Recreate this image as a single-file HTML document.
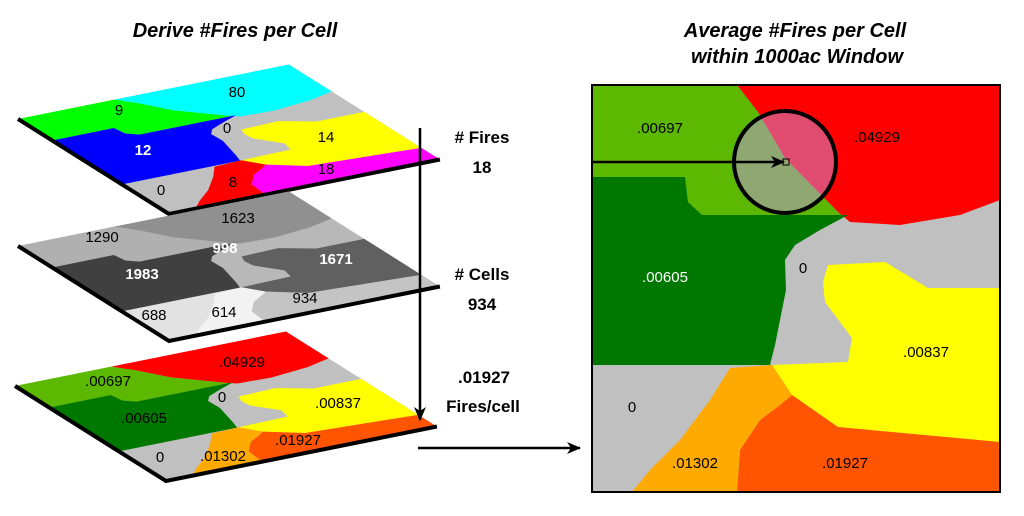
<!DOCTYPE html>
<html><head><meta charset="utf-8"><style>
html,body{margin:0;padding:0;background:#fff;}
svg{display:block;font-family:"Liberation Sans",Arial,sans-serif;}
</style></head><body>
<svg width="1024" height="516" viewBox="0 0 1024 516" xmlns="http://www.w3.org/2000/svg">
<defs>
<polygon id="lg" points="0,0 145,0 166,27 193,73 246,127 256,130 110,130 96,117 93,92 0,92"/>
<polygon id="rd" points="145,0 408,0 408,115 368,130 308,140 258,137 246,127 193,73 166,27"/>
<polygon id="dg" points="0,92 93,92 96,117 110,130 256,130 228,145 203,160 193,175 194,205 188,235 183,260 178,280 0,280"/>
<polygon id="ye" points="236,180 293,177 336,203 408,203 408,357 246,342 200,310 180,280 256,277 260,253 233,217 231,197"/>
<polygon id="orr" points="200,310 246,342 408,357 408,407 145,407 148,365 168,335 188,320"/>
<polygon id="or" points="180,280 200,310 188,320 168,335 148,365 145,407 40,407 58,385 88,355 118,315 138,283"/>
<marker id="ah" markerWidth="14" markerHeight="12" refX="13" refY="6" orient="auto" markerUnits="userSpaceOnUse"><path d="M0,0 L14,6 L0,12 L4,6 Z" fill="#000"/></marker>
</defs>

<text x="235" y="37" font-size="20" font-weight="bold" font-style="italic" text-anchor="middle">Derive #Fires per Cell</text>
<text x="795" y="37" font-size="20" font-weight="bold" font-style="italic" text-anchor="middle">Average #Fires per Cell</text>
<text x="797" y="63" font-size="20" font-weight="bold" font-style="italic" text-anchor="middle">within 1000ac Window</text>

<g transform="matrix(0.664,-0.1336,0.371,0.2334,18,119)">
<rect x="0" y="0" width="408" height="407" fill="#c0c0c0"/>
<use href="#lg" fill="#00ff00"/><use href="#rd" fill="#00ffff"/><use href="#dg" fill="#0000ff"/>
<use href="#ye" fill="#ffff00"/><use href="#orr" fill="#ff00ff"/><use href="#or" fill="#ff0000"/>
<polyline points="0,0 0,407 408,407" fill="none" stroke="#000" stroke-width="4" vector-effect="non-scaling-stroke"/>
</g>
<g transform="matrix(0.664,-0.1336,0.371,0.2334,18,246)">
<rect x="0" y="0" width="408" height="407" fill="#b8b8b8"/>
<use href="#lg" fill="#b0b0b0"/><use href="#rd" fill="#909090"/><use href="#dg" fill="#404040"/>
<use href="#ye" fill="#606060"/><use href="#orr" fill="#c4c4c4"/><use href="#or" fill="#f2f2f2"/>
<polygon points="0,280 178,280 138,283 118,315 88,355 58,385 40,407 0,407" fill="#e2e2e2"/>
<polyline points="0,0 0,407 408,407" fill="none" stroke="#000" stroke-width="4" vector-effect="non-scaling-stroke"/>
</g>
<g transform="matrix(0.664,-0.1336,0.371,0.2334,15,386)">
<rect x="0" y="0" width="408" height="407" fill="#c0c0c0"/>
<use href="#lg" fill="#5cb800"/><use href="#rd" fill="#ff0000"/><use href="#dg" fill="#007800"/>
<use href="#ye" fill="#ffff00"/><use href="#orr" fill="#ff5500"/><use href="#or" fill="#ffaa00"/>
<polyline points="0,0 0,407 408,407" fill="none" stroke="#000" stroke-width="4" vector-effect="non-scaling-stroke"/>
</g>

<g font-size="15" text-anchor="middle">
<text x="237" y="97">80</text><text x="119" y="115">9</text><text x="227" y="133">0</text>
<text x="326" y="142">14</text><text x="143" y="155" fill="#fff" font-weight="bold">12</text>
<text x="326" y="174">18</text><text x="233" y="187">8</text><text x="161" y="195">0</text>

<text x="238" y="223">1623</text><text x="102" y="242">1290</text>
<text x="225" y="253" fill="#fff" font-weight="bold">998</text>
<text x="142" y="279" fill="#fff" font-weight="bold">1983</text>
<text x="336" y="264" fill="#fff" font-weight="bold">1671</text>
<text x="305" y="303">934</text><text x="154" y="320">688</text><text x="224" y="317">614</text>

<text x="242" y="367">.04929</text><text x="108" y="386">.00697</text><text x="222" y="402">0</text>
<text x="338" y="408">.00837</text><text x="144" y="423">.00605</text><text x="298" y="445">.01927</text>
<text x="160" y="462">0</text><text x="223" y="461">.01302</text>
</g>

<line x1="420" y1="128" x2="420" y2="420" stroke="#000" stroke-width="2.5" marker-end="url(#ah)"/>
<line x1="418" y1="448" x2="580" y2="448" stroke="#000" stroke-width="2.5" marker-end="url(#ah)"/>
<g font-size="17" font-weight="bold" text-anchor="middle">
<text x="482" y="143"># Fires</text><text x="482" y="173">18</text>
<text x="482" y="280"># Cells</text><text x="482" y="310">934</text>
<text x="484" y="383">.01927</text><text x="483" y="412">Fires/cell</text>
</g>

<g transform="translate(592,85)">
<rect x="0" y="0" width="408" height="407" fill="#c0c0c0"/>
<use href="#lg" fill="#5cb800"/><use href="#rd" fill="#ff0000"/><use href="#dg" fill="#007800"/>
<use href="#ye" fill="#ffff00"/><use href="#orr" fill="#ff5500"/><use href="#or" fill="#ffaa00"/>
</g>
<rect x="592" y="85" width="408" height="407" fill="none" stroke="#000" stroke-width="2"/>
<circle cx="785" cy="162" r="51" fill="rgb(194,150,223)" fill-opacity="0.5" stroke="#000" stroke-width="4"/>
<line x1="593" y1="162" x2="784" y2="162" stroke="#000" stroke-width="2.5" marker-end="url(#ah)"/>
<rect x="783" y="159" width="6" height="6" fill="none" stroke="#000" stroke-width="1"/>
<g font-size="15" text-anchor="middle">
<text x="660" y="133">.00697</text><text x="877" y="142">.04929</text>
<text x="665" y="282" fill="#fff">.00605</text><text x="803" y="273">0</text>
<text x="926" y="357">.00837</text><text x="632" y="412">0</text>
<text x="695" y="468">.01302</text><text x="845" y="468">.01927</text>
</g>
</svg>
</body></html>
